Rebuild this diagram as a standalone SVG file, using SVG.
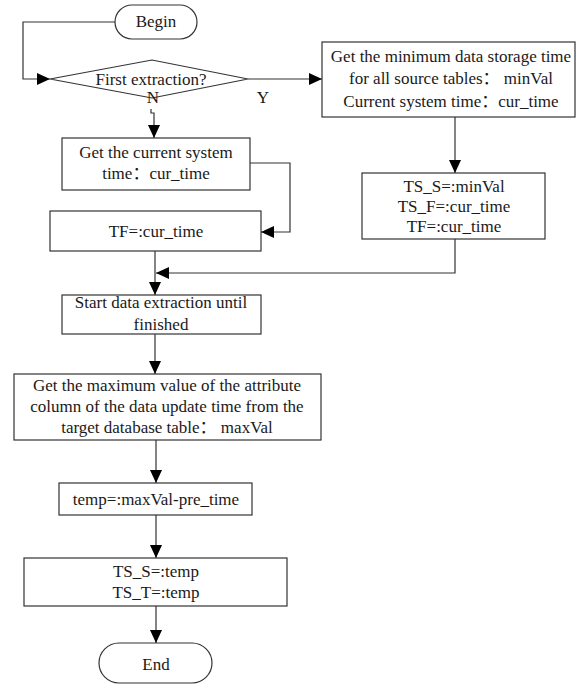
<svg xmlns="http://www.w3.org/2000/svg" width="583" height="686" viewBox="0 0 583 686">
  <style>
    .shape { fill: #ffffff; stroke: #333333; stroke-width: 1.2; }
    .wire { fill: none; stroke: #333333; stroke-width: 1.2; }
    text { font-family: "Liberation Serif", "Noto Sans CJK SC", serif; font-size: 17px; fill: #1a1a1a; text-anchor: middle; }
  </style>
  <defs>
    <marker id="arrow" markerUnits="userSpaceOnUse" markerWidth="13" markerHeight="12" refX="13" refY="6" orient="auto">
      <path d="M0,0 L13,6 L0,12 z" fill="#000000"/>
    </marker>
  </defs>

  <rect width="583" height="686" fill="#ffffff"/>

  <!-- connectors -->
  <g id="connectors" class="wire" marker-end="url(#arrow)">
    <path d="M115,22 H23 V79 H50"/>
    <path d="M248,79 H322"/>
    <path d="M151,109 V113 H154 V138"/>
    <path d="M455,117 V173"/>
    <path d="M250,163 H290 V232 H261"/>
    <path d="M155,251 V295"/>
    <path d="M455,239 V273 H156"/>
    <path d="M155,334 V374"/>
    <path d="M156,440 V483"/>
    <path d="M156,515 V558"/>
    <path d="M156,606 V643"/>
  </g>

  <g id="begin">
    <rect class="shape" x="115" y="5" width="82" height="34" rx="17" ry="17"/>
    <text x="156" y="27">Begin</text>
  </g>

  <g id="first-extraction">
    <polygon class="shape" points="50,79 152,60 248,79 152,98"/>
    <text x="151" y="85">First extraction?</text>
    <text x="153" y="103">N</text>
    <text x="263" y="103">Y</text>
  </g>

  <g id="get-min-time">
    <rect class="shape" x="322" y="42" width="253" height="75"/>
    <text x="451" y="62">Get the minimum data storage time</text>
    <text x="451" y="84">for all source tables： minVal</text>
    <text x="451" y="107">Current system time：cur_time</text>
  </g>

  <g id="set-initial">
    <rect class="shape" x="362" y="173" width="183" height="66"/>
    <text x="454" y="192">TS_S=:minVal</text>
    <text x="454" y="212">TS_F=:cur_time</text>
    <text x="454" y="232">TF=:cur_time</text>
  </g>

  <g id="get-current-time">
    <rect class="shape" x="62" y="138" width="188" height="52"/>
    <text x="156" y="158">Get the current system</text>
    <text x="156" y="179">time：cur_time</text>
  </g>

  <g id="set-tf">
    <rect class="shape" x="50" y="211" width="211" height="40"/>
    <text x="156" y="237">TF=:cur_time</text>
  </g>

  <g id="start-extraction">
    <rect class="shape" x="62" y="295" width="199" height="39"/>
    <text x="161" y="308">Start data extraction until</text>
    <text x="161" y="330">finished</text>
  </g>

  <g id="get-max-value">
    <rect class="shape" x="14" y="374" width="307" height="66"/>
    <text x="167" y="391">Get the maximum value of the attribute</text>
    <text x="167" y="412">column of the data update time from the</text>
    <text x="167" y="433">target database table： maxVal</text>
  </g>

  <g id="compute-temp">
    <rect class="shape" x="59" y="483" width="193" height="32"/>
    <text x="156" y="505">temp=:maxVal-pre_time</text>
  </g>

  <g id="set-final">
    <rect class="shape" x="24" y="558" width="263" height="48"/>
    <text x="156" y="577">TS_S=:temp</text>
    <text x="156" y="598">TS_T=:temp</text>
  </g>

  <g id="end">
    <rect class="shape" x="99" y="643" width="113" height="40" rx="20" ry="20"/>
    <text x="156" y="670">End</text>
  </g>
</svg>
